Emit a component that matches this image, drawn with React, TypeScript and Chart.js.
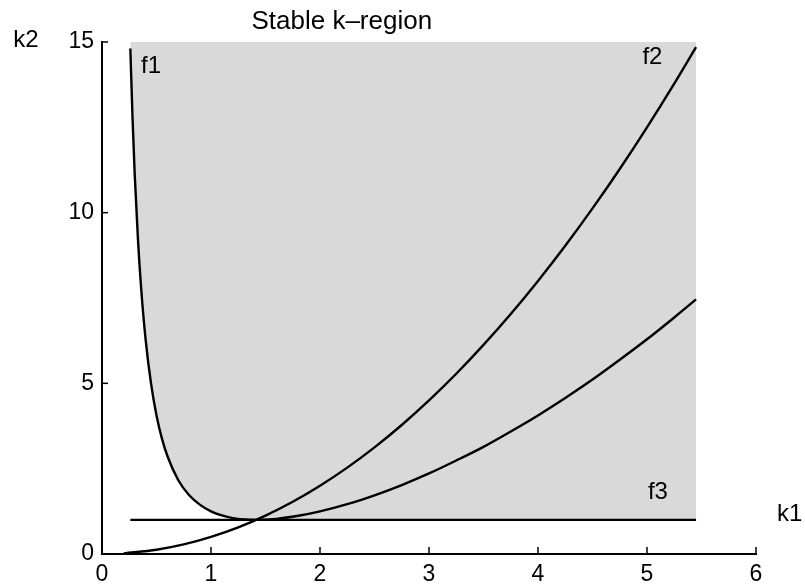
import React, { useEffect, useRef } from "react";
import { Chart, registerables } from "chart.js";

Chart.register(...registerables);

// f1 curve samples (k1, k2)
const f1K1 = [0.26, 0.28, 0.3, 0.33, 0.36, 0.4, 0.45, 0.5, 0.55, 0.6, 0.7, 0.8, 0.9, 1.0, 1.1, 1.2, 1.3, 1.414, 1.6, 1.8, 2.0, 2.25, 2.5, 2.75, 3.0, 3.25, 3.5, 3.75, 4.0, 4.25, 4.5, 4.75, 5.0, 5.25, 5.45];
const f1K2 = [14.81, 12.78, 11.13, 9.21, 7.75, 6.29, 4.99, 4.06, 3.38, 2.87, 2.16, 1.72, 1.44, 1.25, 1.13, 1.05, 1.01, 1.0, 1.03, 1.12, 1.25, 1.46, 1.72, 2.02, 2.36, 2.74, 3.14, 3.59, 4.06, 4.57, 5.11, 5.69, 6.29, 6.93, 7.46];

// f2 curve samples
const f2K1 = [0.2, 0.5, 0.75, 1.0, 1.25, 1.5, 1.75, 2.0, 2.25, 2.5, 2.75, 3.0, 3.25, 3.5, 3.75, 4.0, 4.25, 4.5, 4.75, 5.0, 5.25, 5.45];
const f2K2 = [0.02, 0.125, 0.28, 0.5, 0.78, 1.125, 1.53, 2.0, 2.53, 3.125, 3.78, 4.5, 5.28, 6.125, 7.03, 8.0, 9.03, 10.125, 11.28, 12.5, 13.78, 14.85];

// f3 line
const f3K1 = [0.26, 5.45];
const f3K2 = [1.0, 1.0];

// stable region lower boundary (f1 left branch, then f3)
const regionK1 = [0.26, 0.28, 0.3, 0.33, 0.36, 0.4, 0.45, 0.5, 0.55, 0.6, 0.7, 0.8, 0.9, 1.0, 1.1, 1.2, 1.3, 1.414, 5.45];
const regionK2 = [14.81, 12.78, 11.13, 9.21, 7.75, 6.29, 4.99, 4.06, 3.38, 2.87, 2.16, 1.72, 1.44, 1.25, 1.13, 1.05, 1.01, 1.0, 1.0];

const xTicks = [0, 1, 2, 3, 4, 5, 6];
const yTicks = [0, 5, 10, 15];

const curveLabels = [
  { text: "f1", k1: 0.45, k2: 14.3 },
  { text: "f2", k1: 5.05, k2: 14.55 },
  { text: "f3", k1: 5.1, k2: 1.8 },
];

const titleText = "Stable k\u2013region";
const xTitle = "k1";
const yTitle = "k2";

const FONT = "'Liberation Sans', Arial, Helvetica, sans-serif";

const toPts = (xs: number[], ys: number[]) => xs.map((x, i) => ({ x, y: ys[i] }));

const extrasPlugin = {
  id: "extras",
  afterDraw(chart: any) {
    const ctx = chart.ctx;
    const xs = chart.scales.x;
    const ys = chart.scales.y;
    const area = chart.chartArea;
    ctx.save();
    // inward ticks
    ctx.strokeStyle = "#000";
    ctx.lineWidth = 1.5;
    xTicks.forEach((t) => {
      if (t === 0) return;
      const px = xs.getPixelForValue(t);
      ctx.beginPath();
      ctx.moveTo(px, area.bottom);
      ctx.lineTo(px, area.bottom - 7);
      ctx.stroke();
    });
    yTicks.forEach((t) => {
      if (t === 0) return;
      const py = ys.getPixelForValue(t);
      ctx.beginPath();
      ctx.moveTo(area.left, py);
      ctx.lineTo(area.left + 6, py);
      ctx.stroke();
    });
    // texts
    ctx.fillStyle = "#000";
    ctx.textAlign = "center";
    ctx.textBaseline = "middle";
    ctx.font = `24px ${FONT}`;
    curveLabels.forEach((l) => {
      ctx.fillText(l.text, xs.getPixelForValue(l.k1), ys.getPixelForValue(l.k2));
    });
    ctx.font = `26px ${FONT}`;
    ctx.fillText(titleText, xs.getPixelForValue(2.2), area.top - 20);
    ctx.font = `24px ${FONT}`;
    ctx.fillText(yTitle, area.left - 76, area.top - 2);
    ctx.fillText(xTitle, xs.getPixelForValue(6.31), ys.getPixelForValue(1.15));
    ctx.restore();
  },
};

export default function App() {
  const ref = useRef<HTMLCanvasElement>(null);
  useEffect(() => {
    if (!ref.current) return;
    const line = (xs: number[], ys: number[]) => ({
      data: toPts(xs, ys),
      showLine: true,
      borderColor: "#000",
      borderWidth: 2.4,
      pointRadius: 0,
      fill: false,
      cubicInterpolationMode: "monotone" as const,
      order: 0,
    });
    const chart = new Chart(ref.current, {
      type: "scatter",
      data: {
        datasets: [
          line(f1K1, f1K2),
          line(f2K1, f2K2),
          line(f3K1, f3K2),
          {
            data: toPts(regionK1, regionK2),
            showLine: true,
            borderWidth: 0,
            borderColor: "rgba(0,0,0,0)",
            backgroundColor: "#d9d9d9",
            pointRadius: 0,
            fill: "end",
            cubicInterpolationMode: "monotone" as const,
            order: 5,
          },
        ],
      },
      options: {
        animation: false,
        responsive: false,
        maintainAspectRatio: false,
        layout: { padding: { top: 42, right: 49, left: 0, bottom: 0 } },
        plugins: { legend: { display: false }, tooltip: { enabled: false }, title: { display: false } },
        scales: {
          x: {
            type: "linear",
            min: 0,
            max: 6,
            afterBuildTicks: (s: any) => {
              s.ticks = xTicks.map((v) => ({ value: v }));
            },
            afterFit: (s: any) => {
              s.height = 31;
            },
            grid: { display: true, drawOnChartArea: false, drawTicks: false },
            border: { display: true, color: "#000", width: 2 },
            ticks: { color: "#000", font: { family: FONT, size: 23 }, padding: 7, maxRotation: 0 },
          },
          y: {
            type: "linear",
            min: 0,
            max: 15,
            afterBuildTicks: (s: any) => {
              s.ticks = yTicks.map((v) => ({ value: v }));
            },
            afterFit: (s: any) => {
              s.width = 102;
            },
            grid: { display: true, drawOnChartArea: false, drawTicks: false },
            border: { display: true, color: "#000", width: 2 },
            ticks: { color: "#000", font: { family: FONT, size: 23 }, padding: 8 },
          },
        },
      },
      plugins: [extrasPlugin],
    });
    return () => chart.destroy();
  }, []);
  return (
    <div style={{ position: "absolute", left: 0, top: 0, width: 805, height: 585, background: "#fff" }}>
      <canvas ref={ref} width={805} height={585} style={{ width: 805, height: 585 }} />
    </div>
  );
}
